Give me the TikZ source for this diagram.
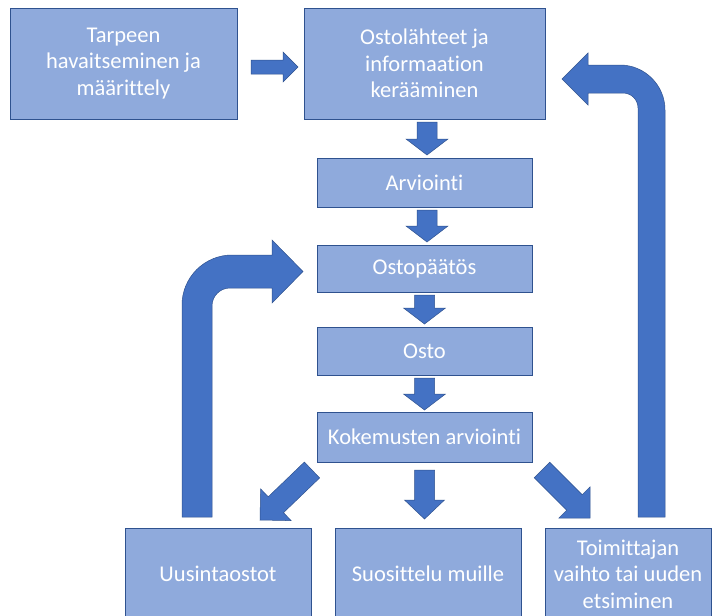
\documentclass[tikz,border=0pt]{standalone}
\usepackage{fontspec}
\setmainfont{Carlito}[Ligatures={NoCommon}]
\usetikzlibrary{calc}
\definecolor{boxfill}{HTML}{8FAADC}
\definecolor{boxline}{HTML}{2F528F}
\definecolor{arrfill}{HTML}{4472C4}
\definecolor{arrline}{HTML}{2F528F}
\tikzset{
  box/.style={draw=boxline, line width=0.6pt, fill=boxfill, text=white,
    inner sep=0pt, outer sep=0pt, align=center,
    font=\fontsize{22.5}{26.5}\selectfont},
  blockarr/.style={draw=arrline, line width=0.5pt, fill=arrfill},
}
% block arrow from #1 to #2: shaft half-width #3, head half-width #4, head length #5
\newcommand\blockarrow[5]{%
  \draw[blockarr] ($(#1)!#3!90:(#2)$)
    -- ($(#2)!#5!(#1)!#3!-90:(#1)$)
    -- ($(#2)!#5!(#1)!#4!-90:(#1)$)
    -- (#2)
    -- ($(#2)!#5!(#1)!#4!90:(#1)$)
    -- ($(#2)!#5!(#1)!#3!90:(#1)$)
    -- ($(#1)!#3!-90:(#2)$) -- cycle;}
\begin{document}
\begin{tikzpicture}[x=1pt,y=-1pt]
\useasboundingbox (0,0) rectangle (713,616);
\fill[white] (0,0) rectangle (713,616);

\node[box, minimum width=227pt, minimum height=111pt] (t1) at (123.5,63.5)
  {Tarpeen\\havaitseminen ja\\määrittely};
\node[box, minimum width=241pt, minimum height=111pt] (t2) at (424.5,63.5)
  {Ostolähteet ja\\informaation\\kerääminen};
\node[box, minimum width=215pt, minimum height=49pt] (arv) at (424.5,182.5) {Arviointi};
\node[box, minimum width=215pt, minimum height=47pt] (paat) at (424.5,268.5) {Ostopäätös};
\node[box, minimum width=215pt, minimum height=48pt] (osto) at (424.5,351) {Osto};
\node[box, minimum width=215pt, minimum height=50pt] (kok) at (424.5,437) {Kokemusten arviointi};
\node[box, minimum width=186pt, minimum height=92pt] (uus) at (218,574) {Uusintaostot};
\node[box, minimum width=186pt, minimum height=92pt] (suo) at (428,574) {Suosittelu muille};
\node[box, minimum width=166pt, minimum height=92pt] (toi) at (628,574)
  {Toimittajan\\vaihto tai uuden\\etsiminen};

% straight block arrows
\coordinate (a0s) at ($(t1.east)+(14,3.5)$);
\coordinate (a0e) at ($(t2.west)+(-6,3.5)$);
\blockarrow{a0s}{a0e}{7pt}{15pt}{15pt}

\coordinate (a1s) at ($(t2.south)+(2.5,3)$);
\coordinate (a1e) at ($(arv.north)+(2.5,-3)$);
\blockarrow{a1s}{a1e}{10pt}{21pt}{16pt}
\coordinate (a2s) at ($(arv.south)+(2.5,3)$);
\coordinate (a2e) at ($(paat.north)+(2.5,-3)$);
\blockarrow{a2s}{a2e}{10pt}{21pt}{16pt}
\coordinate (a3s) at ($(paat.south)+(0,3)$);
\coordinate (a3e) at ($(osto.north)+(0,-3)$);
\blockarrow{a3s}{a3e}{10pt}{21pt}{16pt}
\coordinate (a4s) at ($(osto.south)+(0,3)$);
\coordinate (a4e) at ($(kok.north)+(0,-2)$);
\blockarrow{a4s}{a4e}{10pt}{21pt}{16pt}

\coordinate (a5s) at ($(kok.south)+(0,8)$);
\coordinate (a5e) at ($(suo.north)+(-3.5,-9)$);
\blockarrow{a5s}{a5e}{10pt}{20pt}{19pt}
\coordinate (a6s) at ($(kok.south west)+(-5,8)$);
\coordinate (a6e) at ($(uus.north east)+(-51,-8)$);
\blockarrow{a6s}{a6e}{11pt}{22pt}{22pt}
\coordinate (a7s) at ($(kok.south east)+(10,8)$);
\coordinate (a7e) at ($(toi.north west)+(45,-10)$);
\blockarrow{a7s}{a7e}{11pt}{22pt}{22pt}

% bent arrow: Uusintaostot -> Ostopäätös
\coordinate (lb) at ($(uus.north)+(-21,-11)$);
\coordinate (lt) at ($(paat.west)+(-14,3)$);
\draw[blockarr] let \p1=(lb), \p2=(lt) in
  (\x1-15pt,\y1) -- (\x1-15pt,\y2+16.5pt-50pt)
  .. controls (\x1-15pt,\y2+16.5pt-22.4pt) and (\x1-15pt+22.4pt,\y2+16.5pt) ..
  (\x1+35pt,\y2+16.5pt) -- (\x2-31pt,\y2+16.5pt) -- (\x2-31pt,\y2+31.5pt)
  -- (\x2,\y2) -- (\x2-31pt,\y2-31.5pt) -- (\x2-31pt,\y2-16.5pt)
  -- (\x1+33pt,\y2-16.5pt)
  .. controls (\x1+23pt,\y2-16.5pt) and (\x1+15pt,\y2-24.5pt) ..
  (\x1+15pt,\y2-34.5pt) -- (\x1+15pt,\y1) -- cycle;

% bent arrow: Toimittajan -> Ostolähteet
\coordinate (rb) at ($(toi.north)+(23.5,-11)$);
\coordinate (rt) at ($(t2.east)+(17,15.5)$);
\draw[blockarr] let \p1=(rb), \p2=(rt) in
  (\x1+13.5pt,\y1) -- (\x1+13.5pt,\y2+14pt-45pt)
  .. controls (\x1+13.5pt,\y2+14pt-20.2pt) and (\x1+13.5pt-20.2pt,\y2+14pt) ..
  (\x1-31.5pt,\y2+14pt) -- (\x2+26pt,\y2+14pt) -- (\x2+26pt,\y2+26pt)
  -- (\x2,\y2) -- (\x2+26pt,\y2-26pt) -- (\x2+26pt,\y2-14pt)
  -- (\x1-28.5pt,\y2-14pt)
  .. controls (\x1-20.2pt,\y2-14pt) and (\x1-13.5pt,\y2-20.7pt) ..
  (\x1-13.5pt,\y2-29pt) -- (\x1-13.5pt,\y1) -- cycle;
\end{tikzpicture}
\end{document}
